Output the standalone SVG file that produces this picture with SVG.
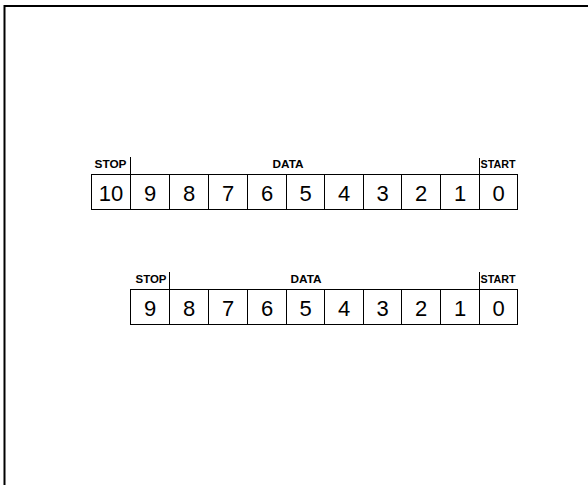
<svg xmlns="http://www.w3.org/2000/svg" width="588" height="485" viewBox="0 0 588 485">
<style>
.cell{fill:#fff;stroke:#000;stroke-width:1}
.d{font-family:"Liberation Sans",Arial,sans-serif;font-size:22px;text-anchor:middle;fill:#000}
.lab{font-family:"Liberation Sans",Arial,sans-serif;font-size:10.5px;font-weight:bold;fill:#000}
.tick{stroke:#000;stroke-width:1;fill:none}
.frame{stroke:#000;stroke-width:2;fill:none}
</style>
<rect width="588" height="485" fill="#fff"/>
<path class="frame" d="M4.5,485 V6 H588"/>
<g id="row1">
<g id="r1c10"><rect class="cell" x="91.5" y="174.5" width="39" height="35"/><text class="d" x="111" y="200.5">10</text></g>
<g id="r1c9"><rect class="cell" x="130.5" y="174.5" width="39" height="35"/><text class="d" x="150" y="200.5">9</text></g>
<g id="r1c8"><rect class="cell" x="169.5" y="174.5" width="39" height="35"/><text class="d" x="189" y="200.5">8</text></g>
<g id="r1c7"><rect class="cell" x="208.5" y="174.5" width="39" height="35"/><text class="d" x="228" y="200.5">7</text></g>
<g id="r1c6"><rect class="cell" x="247.5" y="174.5" width="39" height="35"/><text class="d" x="267" y="200.5">6</text></g>
<g id="r1c5"><rect class="cell" x="286.5" y="174.5" width="38" height="35"/><text class="d" x="305.5" y="200.5">5</text></g>
<g id="r1c4"><rect class="cell" x="324.5" y="174.5" width="39" height="35"/><text class="d" x="344" y="200.5">4</text></g>
<g id="r1c3"><rect class="cell" x="363.5" y="174.5" width="38" height="35"/><text class="d" x="382.5" y="200.5">3</text></g>
<g id="r1c2"><rect class="cell" x="401.5" y="174.5" width="39" height="35"/><text class="d" x="421" y="200.5">2</text></g>
<g id="r1c1"><rect class="cell" x="440.5" y="174.5" width="39" height="35"/><text class="d" x="460" y="200.5">1</text></g>
<g id="r1c0"><rect class="cell" x="479.5" y="174.5" width="38" height="35"/><text class="d" x="498.5" y="200.5">0</text></g>
</g>
<g id="row1-labels">
<text class="lab" x="94.5" y="168" textLength="32" lengthAdjust="spacingAndGlyphs">STOP</text>
<text class="lab" x="272.5" y="168" textLength="31" lengthAdjust="spacingAndGlyphs">DATA</text>
<text class="lab" x="480.5" y="168" textLength="35" lengthAdjust="spacingAndGlyphs">START</text>
</g>
<g id="row2">
<g id="r2c9"><rect class="cell" x="130.5" y="289.5" width="39" height="35"/><text class="d" x="150" y="315.5">9</text></g>
<g id="r2c8"><rect class="cell" x="169.5" y="289.5" width="39" height="35"/><text class="d" x="189" y="315.5">8</text></g>
<g id="r2c7"><rect class="cell" x="208.5" y="289.5" width="39" height="35"/><text class="d" x="228" y="315.5">7</text></g>
<g id="r2c6"><rect class="cell" x="247.5" y="289.5" width="39" height="35"/><text class="d" x="267" y="315.5">6</text></g>
<g id="r2c5"><rect class="cell" x="286.5" y="289.5" width="38" height="35"/><text class="d" x="305.5" y="315.5">5</text></g>
<g id="r2c4"><rect class="cell" x="324.5" y="289.5" width="39" height="35"/><text class="d" x="344" y="315.5">4</text></g>
<g id="r2c3"><rect class="cell" x="363.5" y="289.5" width="38" height="35"/><text class="d" x="382.5" y="315.5">3</text></g>
<g id="r2c2"><rect class="cell" x="401.5" y="289.5" width="39" height="35"/><text class="d" x="421" y="315.5">2</text></g>
<g id="r2c1"><rect class="cell" x="440.5" y="289.5" width="39" height="35"/><text class="d" x="460" y="315.5">1</text></g>
<g id="r2c0"><rect class="cell" x="479.5" y="289.5" width="38" height="35"/><text class="d" x="498.5" y="315.5">0</text></g>
</g>
<g id="row2-labels">
<text class="lab" x="135.5" y="283" textLength="31" lengthAdjust="spacingAndGlyphs">STOP</text>
<text class="lab" x="290.5" y="283" textLength="31" lengthAdjust="spacingAndGlyphs">DATA</text>
<text class="lab" x="480.5" y="283" textLength="35" lengthAdjust="spacingAndGlyphs">START</text>
</g>
<g id="connectors">
<path class="tick" d="M130.5,157 V174.5 M479.5,158 V174.5 M169.5,272 V289.5 M479.5,272 V289.5"/>
</g>
</svg>
